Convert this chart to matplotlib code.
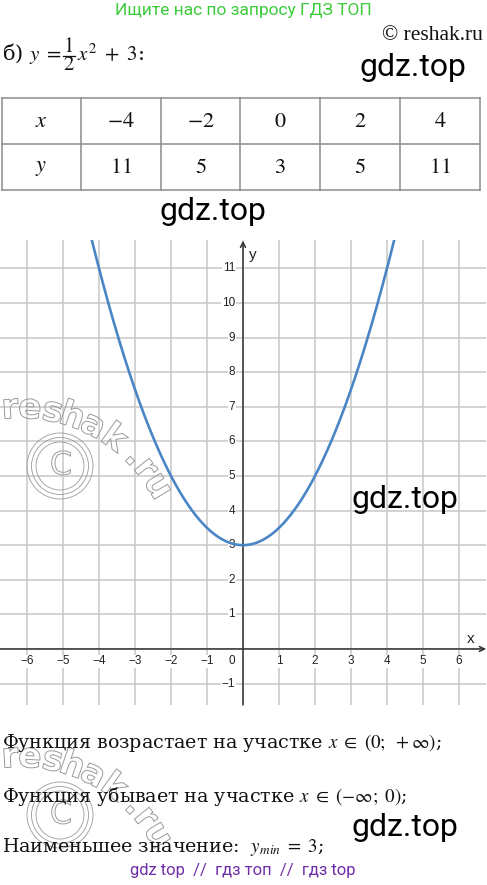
import numpy as np
import matplotlib
matplotlib.use('Agg')
import matplotlib.pyplot as plt
import matplotlib.patheffects as pe
from matplotlib.patches import Circle

plt.rcParams['font.family'] = ['DejaVu Serif']
plt.rcParams['mathtext.fontset'] = 'stix'

# DATA
X_TABLE = [-4, -2, 0, 2, 4]
Y_TABLE = [11, 5, 3, 5, 11]
COEF_A = 0.5          # y = a*x^2 + c
COEF_C = 3
X_TICKS = [-6, -5, -4, -3, -2, -1, 1, 2, 3, 4, 5, 6]
Y_TICKS = [-1, 1, 2, 3, 4, 5, 6, 7, 8, 9, 10, 11]
WM_LETTERS = list('reshak.ru')
WM_ANGLES = [93.6, 86.5, 78.3, 71.1, 63, 54.3, 44.5, 38.7, 31]

W, H = 487, 885
fig = plt.figure(figsize=(W / 100, H / 100), dpi=100)

# ---- graph ----
ax = fig.add_axes([0, (H - 705) / H, 486 / W, 465 / H])
ax.set_xlim(-6.75, 6.75)
ax.set_ylim(-1.62, 11.82)
ax.axis('off')

GRID = '#c8c8c8'
for gx in range(-6, 7):
    ax.axvline(gx, color=GRID, lw=1.1, zorder=1)
for gy in range(-1, 12):
    ax.axhline(gy, color=GRID, lw=1.1, zorder=1)

ax.annotate('', xy=(6.75, 0), xytext=(-6.75, 0),
            arrowprops=dict(arrowstyle='->', lw=1.1, color='#333333', mutation_scale=9, shrinkA=0, shrinkB=0), zorder=3)
ax.annotate('', xy=(0, 11.8), xytext=(0, -1.62),
            arrowprops=dict(arrowstyle='->', lw=1.1, color='#333333', mutation_scale=9, shrinkA=0, shrinkB=0), zorder=3)

lab = dict(fontsize=8.5, family='Liberation Sans', color='#222222',
           bbox=dict(facecolor='white', edgecolor='none', pad=0.3), zorder=4)
for t in X_TICKS:
    ax.text(t, -0.35, str(t).replace('-', '\u2212'), ha='center', va='center', **lab)
for t in Y_TICKS:
    ax.text(-0.22, t, str(t).replace('-', '\u2212'), ha='right', va='center', **lab)
ax.text(-0.3, -0.35, '0', ha='center', va='center', **lab)
ax.text(6.33, 0.29, 'x', ha='center', va='center', fontsize=11, family='Liberation Sans', color='#222222')
ax.text(0.26, 11.39, 'y', ha='center', va='center', fontsize=11, family='Liberation Sans', color='#222222')

xs = np.linspace(-4.4, 4.4, 400)
ax.plot(xs, COEF_A * xs ** 2 + COEF_C, color='#4a86c6', lw=1.9, zorder=5, solid_capstyle='round')

# ---- overlay in pixel coordinates ----
ov = fig.add_axes([0, 0, 1, 1], zorder=10)
ov.set_xlim(0, W)
ov.set_ylim(H, 0)
ov.axis('off')
ov.patch.set_alpha(0)

WM = '#9a9a9a'


def watermark(cx, cy):
    # letters sit on an arc whose centre is below-left of the (c) circle
    ax0, ay0, R = cx - 40, cy + 103, 161
    for ch, ang in zip(WM_LETTERS, WM_ANGLES):
        th = np.radians(ang)
        px = ax0 + R * np.cos(th)
        py = ay0 - R * np.sin(th)
        ov.text(px, py, ch, fontsize=25, family='DejaVu Sans', weight='bold', color=(1, 1, 1, 0),
                rotation=ang - 90, ha='center', va='center', rotation_mode='anchor',
                path_effects=[pe.Stroke(linewidth=0.7, foreground=WM)], zorder=1)
    for r in (33, 28.5, 24):
        ov.add_patch(Circle((cx, cy), r, fill=False, ec=WM, lw=0.6, zorder=1))
    ov.text(cx + 1, cy, 'C', fontsize=23, family='DejaVu Sans', color=(1, 1, 1, 0),
            ha='center', va='center', path_effects=[pe.Stroke(linewidth=0.7, foreground=WM)], zorder=1)


watermark(60, 466)
watermark(60, 815)

# header
ov.text(243, 11, 'Ищите нас по запросу ГДЗ ТОП', ha='center', va='center',
        fontsize=12.5, family='Roboto', color='#3ccb3c')
ov.text(483, 35, '© reshak.ru', ha='right', va='center', fontsize=15.5, family='Liberation Serif', color='#111111')

# title: б) y = 1/2 x^2 + 3:
ov.text(2, 54, r'б) $y\ =$', ha='left', va='center', fontsize=15, color='#111111')
ov.text(68.5, 46, '$1$', ha='center', va='center', fontsize=15, color='#111111')
ov.text(68.5, 65, '$2$', ha='center', va='center', fontsize=15, color='#111111')
ov.plot([62.5, 74.5], [55.5, 55.5], color='#111111', lw=0.9)
ov.text(77, 54, r'$x^2\ +\ 3$:', ha='left', va='center', fontsize=15, color='#111111')

# table
TL = '#8c8c8c'
cols = [1.5, 80.7, 160.7, 240.3, 320, 400, 480]
for cx in cols:
    ov.plot([cx, cx], [97.5, 190], color=TL, lw=1.1)
for ry in (97.5, 144, 190):
    ov.plot([cols[0], cols[-1]], [ry, ry], color=TL, lw=1.1)
cell_x = [(cols[i] + cols[i + 1]) / 2 for i in range(6)]
ov.text(cell_x[0], 121, '$x$', ha='center', va='center', fontsize=16, color='#111111')
ov.text(cell_x[0], 167, '$y$', ha='center', va='center', fontsize=16, color='#111111')
for i, (xv, yv) in enumerate(zip(X_TABLE, Y_TABLE)):
    ov.text(cell_x[i + 1], 121, '$%s$' % xv, ha='center', va='center', fontsize=16, color='#111111')
    ov.text(cell_x[i + 1], 167, '$%s$' % yv, ha='center', va='center', fontsize=16, color='#111111')

# gdz watermarks
for gx, gy in [(413, 67), (213, 212), (405, 500), (405, 827)]:
    ov.text(gx, gy, 'gdz.top', ha='center', va='center', fontsize=23, family='Roboto', color='black', zorder=20)

# conclusions
txt = dict(ha='left', va='center', fontsize=13.7, color='#111111', zorder=15)
ov.text(2, 743, r'Функция возрастает на участке $x\ \in\ (0;\ +\infty)$;', **txt)
ov.text(2, 796, r'Функция убывает на участке $x\ \in\ (-\infty;\ 0)$;', **txt)
ov.text(2, 847, r'Наименьшее значение:  $y_{min}\ =\ 3$;', **txt)

ov.text(243, 871, 'gdz top  //  гдз топ  //  гдз top', ha='center', va='center',
        fontsize=12, family='Roboto', color='#6f2da8')

fig.savefig('out.png', dpi=100)
